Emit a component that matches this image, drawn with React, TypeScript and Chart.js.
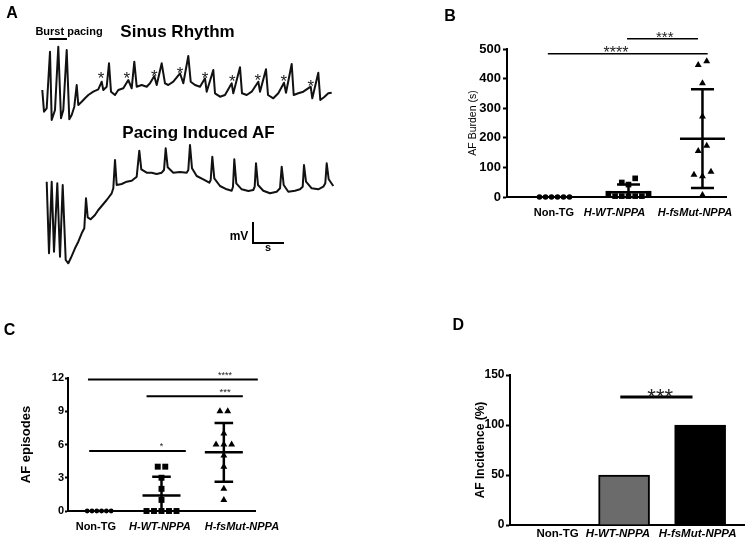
import React, { useEffect, useRef } from 'react';
import { Chart, registerables } from 'chart.js';

Chart.register(...registerables);

const FONT = "'Liberation Sans', Arial, Helvetica, sans-serif";

// ---------------- Panel A : ECG traces (time, voltage) ----------------
const sinusTrace: [number, number][] = [
  [42.3, 0], [44, -21.7], [46.7, -18.3], [50, 38.3], [51.7, -30], [55, -20], [58.3, 43.3], [61, -28.3],
  [63.3, -20], [66.7, 40], [69.3, -29.3], [71.7, -25], [74.3, -16.7], [76.7, 5], [78.3, -15], [81.7, -11.7],
  [85, -8.3], [88.3, -5], [93.3, -1.7], [98.3, 0.7], [101.7, 8.3], [103.3, 0], [106.7, 3.3], [109, 26.7],
  [111, -1.7], [115, -5], [118.3, 0], [123.3, 1.7], [128.3, 10], [131.7, 1.7], [134.3, 28.3], [136.7, 3.3],
  [141.7, 5], [146.7, 3.3], [150, 6.7], [154.3, 14], [156.7, 5], [161.7, 26.7], [165, 6.7], [168.3, 5],
  [173.3, 8.3], [180, 16.7], [183.3, 6.7], [188.3, 34], [190.7, 8.3], [195, 5], [200, 3.3], [205, 11.7],
  [206.7, -1.7], [213.3, 20], [215, -3.3], [220, -6.7], [225, -5], [231.7, 6.7], [233.3, -3.3], [240, 22.7],
  [242, -3.3], [246.7, -5], [251.7, -1.7], [258.3, 8.3], [260, -1.7], [266, 20.7], [268, -5], [273.3, -8.3],
  [278.3, -3.3], [284, 7.3], [286, -2.7], [291.7, 26], [293.7, -5], [298.3, -3.3], [303.3, -1.7], [310.7, 3.3],
  [312.3, -8.3], [318.3, 17.3], [320.3, -10], [324, -7.3], [328.3, -3.3], [331.7, -2.7],
];
const afTrace: [number, number][] = [
  [46.7, 8.3], [49, -63.3], [51.7, 8.3], [54, -61.7], [57.3, 6.7], [60, -66.7], [62.7, 5], [65.7, -70],
  [68.3, -73.3], [70.7, -68.3], [75, -58.3], [78.3, -51.7], [81.7, -43.3], [84.3, -38.3], [86, -8.3], [87.7, -27.3],
  [90.7, -29.3], [95, -25], [98.3, -20], [101.7, -16], [106.7, -10], [111.7, -3.3], [113.3, 1.7], [115, 30],
  [116.7, 5], [121.7, 6], [126.7, 8.3], [131.7, 9.3], [136.7, 13.3], [139.3, 39.3], [141.3, 20.7], [146.7, 17.3],
  [151.7, 17.3], [156.7, 16], [161.7, 17.3], [164, 20], [165.7, 41.7], [167.7, 22.7], [173.3, 17.3], [180, 18],
  [186.7, 17.3], [188.3, 20], [190, 45], [192, 21.7], [196.7, 14], [203.3, 10.7], [209.3, 7.3], [210.7, 10],
  [212.3, 33.3], [214.3, 11.7], [220, 4], [226.7, 0.7], [231.7, -0.7], [233, 3.3], [234.3, 30.7], [236.3, 6.7],
  [241.7, 0.7], [248.3, -1], [253.3, 0], [254.7, 3.3], [256, 26.7], [258, 5], [263.3, -0.7], [270, -3.3],
  [276.7, -1.7], [280, 1.7], [281.7, 23.3], [283.7, 5], [288.3, -1.7], [295, -0.7], [300, 0.7], [302.7, 3.3],
  [304, 25], [306, 8.3], [311.7, 1.7], [318.3, 0.7], [323.3, 3.3], [325.3, 6.7], [326.7, 26.7], [328.7, 10.7],
  [333.3, 4],
];
const pWaveTime = [101, 126.7, 154.3, 180, 205, 232.3, 257.7, 283.7, 310.7];
const pWaveMark = [16, 16, 18.3, 21, 16, 12.7, 14, 12.7, 8.3];

// ---------------- Groups ----------------
const groups = ['Non-TG', 'H-WT-NPPA', 'H-fsMut-NPPA'];

// ---------------- Panel B : AF burden (s) ----------------
const burdenNonTG = [0, 0, 0, 0, 0, 0];
const burdenWT = [63, 49, 42, 11, 11, 3, 3, 3, 3, 3];
const burdenMut = [459, 446, 384, 272, 173, 155, 85, 75, 70, 7];
const burdenMean = [0, 16, 197];
const burdenSD = [0, 26, 167];
const burdenTicks = [0, 100, 200, 300, 400, 500];
const burdenSig = [
  { from: 0.91, to: 3.07, level: 484, at: 1.83, label: '****', size: 16 },
  { from: 1.98, to: 2.94, level: 535, at: 2.49, label: '***', size: 15 },
];

// ---------------- Panel C : AF episodes ----------------
const episodesNonTG = [0, 0, 0, 0, 0, 0];
const episodesWT = [4, 4, 3, 2, 1, 0, 0, 0, 0, 0];
const episodesMut = [9, 9, 7, 6, 6, 6, 5, 4, 2, 1];
const episodesMean = [0, 1.4, 5.3];
const episodesSD = [0, 1.7, 2.65];
const episodesTicks = [0, 3, 6, 9, 12];
const episodesSig = [
  { from: 0.82, to: 3.545, level: 11.86, at: 3.02, label: '****', size: 9 },
  { from: 1.76, to: 3.305, level: 10.36, at: 3.02, label: '***', size: 9.5 },
  { from: 0.84, to: 2.39, level: 5.42, at: 2.0, label: '*', size: 9 },
];

// ---------------- Panel D : AF incidence (%) ----------------
const incidence = [0, 50, 100];
const incidenceTicks = [0, 50, 100, 150];
const incidenceSig = [{ from: 1.95, to: 2.9, level: 128, at: 2.475, label: '***', size: 22 }];

// ---------------- helpers ----------------
const textMarks = {
  id: 'textMarks',
  afterDatasetsDraw(chart: any, _args: any, opts: any) {
    const items = (opts && opts.items) || [];
    const ctx = chart.ctx;
    ctx.save();
    ctx.textAlign = 'center';
    ctx.textBaseline = 'alphabetic';
    for (const it of items) {
      const xs = chart.scales[it.xAxisID || 'x'];
      const ys = chart.scales[it.yAxisID || 'y'];
      const px = xs.getPixelForValue(it.x);
      const py = ys.getPixelForValue(it.y) - (it.lift || 0);
      ctx.font = `${it.weight || 'normal'} ${it.size}px ${FONT}`;
      ctx.fillStyle = it.color || '#000';
      ctx.fillText(it.text, px, py + it.size * 0.58);
    }
    ctx.restore();
  },
};

// spread equal / overlapping values symmetrically around the group centre
function swarm(values: number[], center: number, unitPx: number, pxPerValue: number, spacingPx: number, overlapPx: number) {
  const order = values.map((_, i) => i).sort((a, b) => values[a] - values[b]);
  const clusters: number[][] = [];
  let cur: number[] = [];
  for (const i of order) {
    if (cur.length && (values[i] - values[cur[cur.length - 1]]) * pxPerValue >= overlapPx) {
      clusters.push(cur);
      cur = [];
    }
    cur.push(i);
  }
  if (cur.length) clusters.push(cur);
  const pts: { x: number; y: number }[] = [];
  for (const c of clusters) {
    const n = c.length;
    const slots = Array.from({ length: n }, (_, k) => k - (n - 1) / 2).sort(
      (a, b) => Math.abs(a) - Math.abs(b) || a - b
    );
    c.forEach((i, k) => pts.push({ x: center + (slots[k] * spacingPx) / unitPx, y: values[i] }));
  }
  return pts;
}

function errorBar(center: number, mean: number, sd: number, halfMean: number, halfCap: number) {
  const hi = mean + sd;
  const lo = Math.max(0, mean - sd);
  const pts: any[] = [
    { x: center - halfMean, y: mean }, { x: center + halfMean, y: mean }, { x: center, y: null },
    { x: center - halfCap, y: hi }, { x: center + halfCap, y: hi }, { x: center, y: null },
    { x: center, y: lo }, { x: center, y: hi },
  ];
  if (mean - sd > 0) {
    pts.push({ x: center, y: null }, { x: center - halfCap, y: lo }, { x: center + halfCap, y: lo });
  }
  return pts;
}

function fixTicks(values: number[]) {
  return (s: any) => {
    s.ticks = values.map((v) => ({ value: v }));
  };
}

const xLabelFont = (size: number) => (c: any) => ({
  family: FONT,
  size,
  weight: 'bold',
  style: c.index === 0 ? 'normal' : 'italic',
});

function categoryAxis(spec: any) {
  return {
    type: 'linear',
    bounds: 'data',
    offset: false,
    min: spec.xMin,
    max: spec.xMax,
    afterBuildTicks: fixTicks(spec.labelAt),
    afterFit: (s: any) => {
      s.height = spec.xHeight;
      s.paddingLeft = 0;
      s.paddingRight = 0;
    },
    grid: { display: false, drawTicks: false, offset: false },
    border: { display: true, color: '#000', width: 2 },
    ticks: {
      padding: spec.xPad,
      color: '#000',
      autoSkip: false,
      maxRotation: 0,
      minRotation: 0,
      font: xLabelFont(spec.xFontSize),
      callback: (_v: number, i: number) => groups[i],
    },
  };
}

function valueAxis(spec: any) {
  return {
    type: 'linear',
    bounds: 'data',
    min: 0,
    max: spec.yMax,
    afterBuildTicks: fixTicks(spec.ticks),
    afterFit: (s: any) => {
      s.width = spec.yWidth;
      s.paddingTop = 0;
      s.paddingBottom = 0;
    },
    grid: {
      display: true,
      drawOnChartArea: false,
      drawTicks: true,
      tickLength: spec.tickLen,
      tickWidth: 2,
      color: '#000',
      tickColor: '#000',
    },
    border: { display: true, color: '#000', width: 2 },
    ticks: { padding: spec.tickPad, color: '#000', font: { family: FONT, size: spec.tickSize, weight: 'bold' } },
    title: {
      display: true,
      text: spec.yTitle,
      color: '#000',
      padding: { top: 4, bottom: 4 },
      font: { family: FONT, size: spec.titleSize, weight: spec.titleWeight },
    },
  };
}

function scatterConfig(spec: any) {
  const u = spec.unitPx;
  const series = [spec.nonTG, spec.wt, spec.mut];
  const styles = ['circle', 'rect', 'triangle'];
  const datasets: any[] = [];
  series.forEach((vals: number[], g: number) => {
    const m = spec.markers[g];
    datasets.push({
      data: swarm(vals, g + 1, u, spec.pxPerValue, m.sp, 6),
      pointStyle: styles[g],
      pointRadius: m.r,
      backgroundColor: '#000',
      borderColor: '#000',
      borderWidth: 0,
      showLine: false,
      clip: false,
    });
  });
  spec.mean.forEach((mn: number, g: number) => {
    if (mn === 0 && spec.sd[g] === 0) return;
    datasets.push({
      data: errorBar(g + 1, mn, spec.sd[g], spec.meanHalfPx / u, spec.capHalfPx / u),
      showLine: true,
      spanGaps: false,
      pointRadius: 0,
      borderColor: '#000',
      borderWidth: spec.barWidth,
      clip: false,
    });
  });
  spec.sig.forEach((s: any) =>
    datasets.push({
      data: [{ x: s.from, y: s.level }, { x: s.to, y: s.level }],
      showLine: true,
      pointRadius: 0,
      borderColor: '#000',
      borderWidth: spec.sigWidth,
      clip: false,
    })
  );
  const items = spec.sig.map((s: any) => ({
    x: s.at, y: s.level, text: s.label, size: s.size, lift: spec.sigLift, color: '#222',
  }));
  return {
    type: 'scatter',
    data: { datasets },
    plugins: [textMarks],
    options: {
      animation: false,
      responsive: false,
      maintainAspectRatio: false,
      events: [],
      layout: { padding: spec.pad },
      plugins: { legend: { display: false }, tooltip: { enabled: false }, textMarks: { items } },
      scales: { x: categoryAxis(spec), y: valueAxis(spec) },
    },
  };
}

function configA() {
  const traceStyle = {
    showLine: true,
    pointRadius: 0,
    borderColor: '#111',
    borderWidth: 2,
    borderJoinStyle: 'round',
    tension: 0,
    clip: false,
  };
  return {
    type: 'scatter',
    data: {
      datasets: [
        { ...traceStyle, yAxisID: 'sinus', data: sinusTrace.map(([t, v]) => ({ x: t, y: v })) },
        { ...traceStyle, yAxisID: 'af', data: afTrace.map(([t, v]) => ({ x: t, y: v })) },
      ],
    },
    plugins: [textMarks],
    options: {
      animation: false,
      responsive: false,
      maintainAspectRatio: false,
      events: [],
      layout: { padding: 0 },
      plugins: {
        legend: { display: false },
        tooltip: { enabled: false },
        textMarks: {
          items: pWaveTime.map((t, i) => ({
            x: t, y: pWaveMark[i], yAxisID: 'sinus', text: '*', size: 17, color: '#222',
          })),
        },
      },
      scales: {
        x: { type: 'linear', display: false, min: 0, max: 370, bounds: 'data' },
        sinus: { type: 'linear', display: false, min: -200, max: 90, bounds: 'data' },
        af: { type: 'linear', display: false, min: -100, max: 190, bounds: 'data' },
      },
    },
  };
}

const specD = {
  ticks: incidenceTicks, yTitle: 'AF Incidence (%)', yMax: 150, xMin: 0.5, xMax: 3.59,
  labelAt: [1.125, 1.92, 2.967], xHeight: 17, xPad: 1.5, xFontSize: 11.5,
  yWidth: 41, tickLen: 4, tickPad: 1.5, tickSize: 12, titleSize: 12, titleWeight: 'bold',
};

function configD() {
  const datasets: any[] = [
    {
      type: 'bar',
      data: incidence.map((v, i) => ({ x: i + 1, y: v })),
      backgroundColor: ['#ffffff', '#6b6b6b', '#000000'],
      borderColor: '#000',
      borderWidth: 2,
      barThickness: 51,
    },
    ...incidenceSig.map((s) => ({
      type: 'line',
      data: [{ x: s.from, y: s.level }, { x: s.to, y: s.level }],
      borderColor: '#000',
      borderWidth: 3,
      pointRadius: 0,
      clip: false,
    })),
  ];
  return {
    type: 'bar',
    data: { datasets },
    plugins: [textMarks],
    options: {
      animation: false,
      responsive: false,
      maintainAspectRatio: false,
      events: [],
      layout: { padding: { left: 14, top: 75, right: 0, bottom: 0 } },
      plugins: {
        legend: { display: false },
        tooltip: { enabled: false },
        textMarks: {
          items: incidenceSig.map((s) => ({ x: s.at, y: s.level, text: s.label, size: s.size, lift: 6, color: '#222' })),
        },
      },
      scales: { x: categoryAxis(specD), y: valueAxis(specD) },
    },
  };
}

const specB = {
  nonTG: burdenNonTG, wt: burdenWT, mut: burdenMut, mean: burdenMean, sd: burdenSD, ticks: burdenTicks,
  sig: burdenSig, yTitle: 'AF Burden (s)', yMax: 500, xMin: 0.358, xMax: 3.318, unitPx: 74, pxPerValue: 148 / 500,
  labelAt: [0.993, 1.811, 2.899], xFontSize: 11,
  pad: { left: 53, top: 49, right: 19, bottom: 0 }, yWidth: 44, xHeight: 33, xPad: 9.5,
  tickLen: 4, tickPad: 2, tickSize: 13, titleSize: 10.5, titleWeight: 'normal',
  markers: [{ r: 2.8, sp: 6 }, { r: 4, sp: 6.7 }, { r: 4, sp: 8.5 }],
  meanHalfPx: 22.5, capHalfPx: 11.5, barWidth: 2.5, sigWidth: 1.5, sigLift: 5,
};

const specC = {
  nonTG: episodesNonTG, wt: episodesWT, mut: episodesMut, mean: episodesMean, sd: episodesSD, ticks: episodesTicks,
  sig: episodesSig, yTitle: 'AF episodes', yMax: 12, xMin: 0.5, xMax: 3.5, unitPx: 62.33, pxPerValue: 133 / 12,
  labelAt: [0.947, 1.974, 3.29], xFontSize: 11,
  pad: { left: 15, top: 78, right: 45, bottom: 0 }, yWidth: 53, xHeight: 31, xPad: 9,
  tickLen: 3, tickPad: 1, tickSize: 11, titleSize: 13, titleWeight: 'bold',
  markers: [{ r: 2.4, sp: 4.8 }, { r: 4.2, sp: 7.5 }, { r: 4, sp: 7.8 }],
  meanHalfPx: 19, capHalfPx: 9.3, barWidth: 2.5, sigWidth: 2, sigLift: 7,
};

const labels: { text: string; x: number; y: number; size: number }[] = [
  { text: 'A', x: 12, y: 12.5, size: 16 },
  { text: 'Burst pacing', x: 69, y: 31, size: 11 },
  { text: 'Sinus Rhythm', x: 177.5, y: 31, size: 17 },
  { text: 'Pacing Induced AF', x: 198.5, y: 132, size: 17 },
  { text: 'mV', x: 239, y: 235.5, size: 12 },
  { text: 's', x: 268, y: 247, size: 11 },
  { text: 'B', x: 450, y: 16, size: 16 },
  { text: 'C', x: 9.5, y: 330, size: 16 },
  { text: 'D', x: 458.3, y: 325, size: 16 },
];

export default function App() {
  const refA = useRef<HTMLCanvasElement>(null);
  const refB = useRef<HTMLCanvasElement>(null);
  const refC = useRef<HTMLCanvasElement>(null);
  const refD = useRef<HTMLCanvasElement>(null);

  useEffect(() => {
    const charts = [
      new Chart(refA.current as HTMLCanvasElement, configA() as any),
      new Chart(refB.current as HTMLCanvasElement, scatterConfig(specB) as any),
      new Chart(refC.current as HTMLCanvasElement, scatterConfig(specC) as any),
      new Chart(refD.current as HTMLCanvasElement, configD() as any),
    ];
    return () => charts.forEach((c) => c.destroy());
  }, []);

  const abs = (l: number, t: number): React.CSSProperties => ({ position: 'absolute', left: l, top: t });

  return (
    <div
      style={{
        position: 'fixed', left: 0, top: 0, width: 745, height: 542, background: '#fff',
        overflow: 'hidden', fontFamily: FONT, color: '#000',
      }}
    >
      <canvas ref={refA} width={370} height={290} style={abs(0, 0)} />
      <canvas ref={refB} width={335} height={230} style={abs(410, 0)} />
      <canvas ref={refC} width={300} height={242} style={abs(0, 300)} />
      <canvas ref={refD} width={290} height={242} style={abs(455, 300)} />
      {/* burst pacing bar */}
      <div style={{ ...abs(49, 38), width: 18, height: 2, background: '#000' }} />
      {/* calibration bar */}
      <div
        style={{
          ...abs(252, 222), width: 32, height: 22, boxSizing: 'border-box',
          borderLeft: '2px solid #000', borderBottom: '2px solid #000',
        }}
      />
      {labels.map((l) => (
        <div
          key={l.text}
          style={{
            ...abs(l.x, l.y), transform: 'translate(-50%, -50%)', fontSize: l.size, fontWeight: 'bold',
            lineHeight: 1, whiteSpace: 'nowrap',
          }}
        >
          {l.text}
        </div>
      ))}
    </div>
  );
}
